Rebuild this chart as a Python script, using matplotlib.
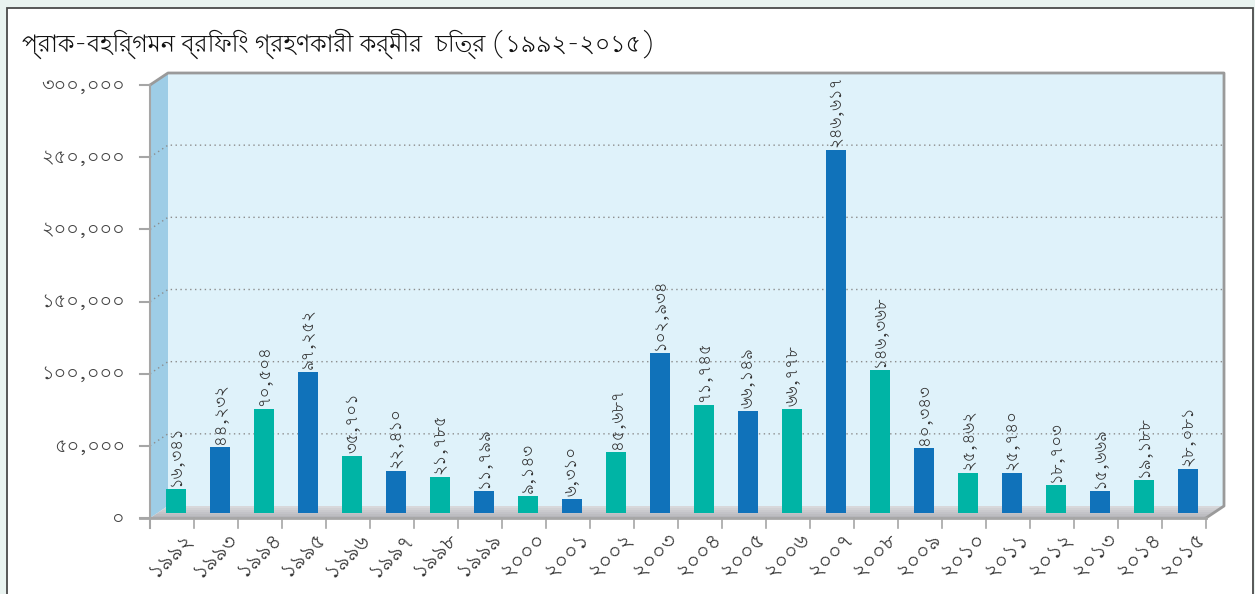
import matplotlib
matplotlib.use("Agg")
import matplotlib.pyplot as plt
from matplotlib.patches import Rectangle, Polygon
from matplotlib import font_manager
from fontTools.ttLib import TTFont

# ---- data ----
years = ["১৯৯২", "১৯৯৩", "১৯৯৪", "১৯৯৫", "১৯৯৬", "১৯৯৭", "১৯৯৮", "১৯৯৯",
         "২০০০", "২০০১", "২০০২", "২০০৩", "২০০৪", "২০০৫", "২০০৬", "২০০৭",
         "২০০৮", "২০০৯", "২০১০", "২০১১", "২০১২", "২০১৩", "২০১৪", "২০১৫"]
# bar heights as drawn in the picture
bar_values = [16700, 46000, 71900, 97700, 39800, 29300, 25100, 15300,
              11900, 9800, 42600, 110900, 74700, 70500, 71900, 251200,
              99100, 44700, 27900, 27900, 19500, 15300, 23000, 30700]
# numbers printed above the bars
value_labels = ["১৬,৩৪১", "৪৪,২৩২", "৭০,৫০৪", "৯৭,২৫২", "৩৫,৭০১", "২২,৪১০",
                "২১,৭৮৫", "১১,৭৯৯", "৯,১৪৩", "৬,৩১০", "৪৫,৬৮৭", "১০২,৯৩৪",
                "৭১,৭৪৫", "৬৬,১৪৯", "৬৬,৭৭৮", "২৪৬,৬১৭", "১৪৬,৩৬৮", "৪০,৩৪৩",
                "২৫,৪৬২", "২৫,৭৪০", "১৮,৭০৩", "১৫,৬৬৯", "১৯,১৮৮", "২৮,০৮১"]
y_ticks = [0, 50000, 100000, 150000, 200000, 250000, 300000]
y_tick_labels = ["০", "৫০,০০০", "১০০,০০০", "১৫০,০০০", "২০০,০০০", "২৫০,০০০", "৩০০,০০০"]
title = "প্রাক-বহির্গমন ব্রিফিং গ্রহণকারী কর্মীর  চিত্র (১৯৯২-২০১৫)"

TEAL = "#00b4a5"
BLUE = "#1072ba"


def find_bengali_font():
    # pick a proportional, regular, sans face that has bengali letters and digits
    best = None
    for f in font_manager.fontManager.ttflist:
        try:
            tt = TTFont(f.fname, fontNumber=0, lazy=True)
            cmap = tt.getBestCmap()
            if not (cmap and 0x0995 in cmap and 0x09E6 in cmap):
                continue
            fixed = tt["post"].isFixedPitch != 0
            name = f.name.lower()
            score = (fixed or "mono" in name,
                     "serif" in name and "sans" not in name,
                     f.style != "normal",
                     abs(f.weight - 400) if isinstance(f.weight, int) else 0,
                     "bengali" not in name and "bangla" not in name)
            if best is None or score < best[0]:
                best = (score, f.name)
        except Exception:
            continue
    return best[1] if best else None


bn = find_bengali_font()
plt.rcParams["font.family"] = [bn, "DejaVu Sans"] if bn else ["DejaVu Sans"]

W, H = 1255, 594
fig = plt.figure(figsize=(W / 100, H / 100), dpi=100, facecolor="#e9f3f0")

# white panel with dark border
fig.patches.append(Rectangle((7 / W, -0.05), (1253 - 7) / W, 1.05 - 8 / H,
                             transform=fig.transFigure, facecolor="white",
                             edgecolor="#4a4a4a", lw=1.3, zorder=-10))

fig.text(22 / W, 1 - 44 / H, title, fontsize=17, fontweight="bold",
         ha="left", va="center", color="#111111")

# front plane of the 3d box
left, right, top, bottom = 150, 1206, 85, 518
ax = fig.add_axes([left / W, (H - bottom) / H, (right - left) / W, (bottom - top) / H])
n = len(years)
ymax = 300000
ax.set_xlim(0, n)
ax.set_ylim(0, ymax)
ax.axis("off")

px_x = n / (right - left)          # data units per pixel
px_y = ymax / (bottom - top)
DX, DY = 18 * px_x, 12 * px_y      # depth of the box

# back wall
ax.add_patch(Rectangle((DX, DY), n, ymax, facecolor="#dff2fa", edgecolor="none",
                       zorder=0, clip_on=False))
# left side wall
ax.add_patch(Polygon([(0, 0), (0, ymax), (DX, ymax + DY), (DX, DY)],
                     facecolor="#9ecde6", edgecolor="none", zorder=1, clip_on=False))
# floor with a small gradient
steps = 6
c_front = (0.70, 0.70, 0.72)
c_back = (0.86, 0.86, 0.87)
for k in range(steps):
    t0, t1 = k / steps, (k + 1) / steps
    c = tuple(c_front[j] + (c_back[j] - c_front[j]) * (t0 + t1) / 2 for j in range(3))
    ax.add_patch(Polygon([(t0 * DX, t0 * DY), (n + t0 * DX, t0 * DY),
                          (n + t1 * DX, t1 * DY), (t1 * DX, t1 * DY)],
                         facecolor=c, edgecolor="none", zorder=1, clip_on=False))

# dotted gridlines across side wall and back wall
for v in y_ticks[1:-1]:
    ax.plot([0, DX, n + DX], [v, v + DY, v + DY], color="#8c8c8c",
            lw=1, ls=(0, (1, 2.5)), zorder=2, clip_on=False)

# outline of the box
ax.plot([0, DX, n + DX, n + DX, n], [ymax, ymax + DY, ymax + DY, DY, 0],
        color="#9a9a9a", lw=2, zorder=3, clip_on=False)
ax.plot([0, 0], [-10 * px_y, ymax], color="#a6a6a6", lw=1.5, zorder=3, clip_on=False)
ax.plot([-10 * px_x, n], [0, 0], color="#a6a6a6", lw=2, zorder=3, clip_on=False)

# y ticks and labels
for v, lab in zip(y_ticks, y_tick_labels):
    ax.plot([-10 * px_x, 0], [v, v], color="#a6a6a6", lw=1.5, zorder=3, clip_on=False)
    ax.text(-25 * px_x, v, lab, ha="right", va="center", fontsize=14, color="#444444")

# x ticks and labels
for k in range(n + 1):
    ax.plot([k, k], [0, -10 * px_y], color="#a6a6a6", lw=1.2, zorder=3, clip_on=False)
for i, yr in enumerate(years):
    ax.text(i + 0.5 + 18 * px_x, -18 * px_y, yr, rotation=45, rotation_mode="anchor",
            ha="right", va="center", fontsize=15, color="#333333")

# bars, sitting a little behind the front edge
BX, BY = 4 * px_x, 5 * px_y
xs = [i + 0.5 + BX for i in range(n)]
colors = [TEAL if i % 2 == 0 else BLUE for i in range(n)]
ax.bar(xs, bar_values, bottom=BY, width=20 * px_x, color=colors, zorder=4, clip_on=False)

for x, v, lab in zip(xs, bar_values, value_labels):
    ax.text(x, BY + v + 3 * px_y, lab, rotation=90, ha="center", va="bottom",
            fontsize=12, color="#333333", zorder=5)

fig.savefig("out.png", dpi=100, facecolor=fig.get_facecolor())
